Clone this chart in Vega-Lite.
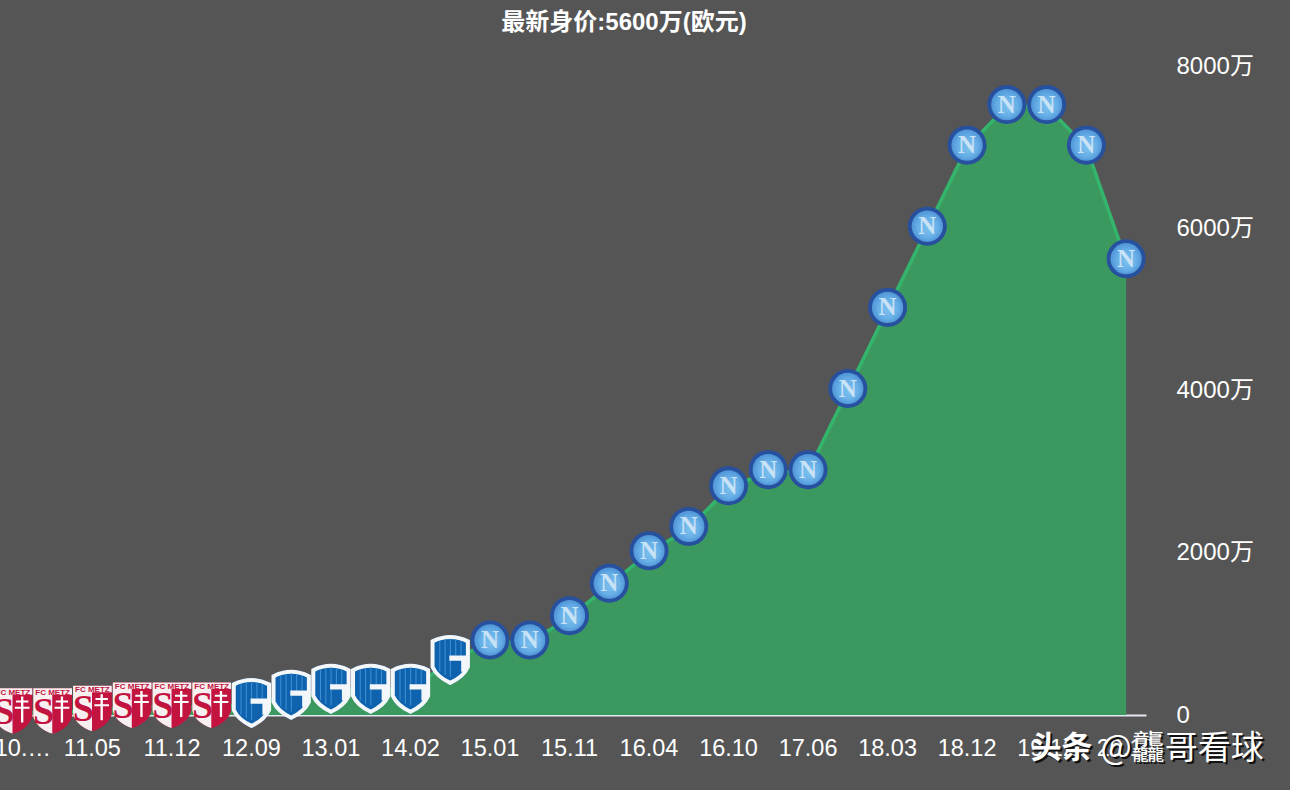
{
  "$schema": "https://vega.github.io/schema/vega-lite/v6.json",
  "width": 1146,
  "height": 649,
  "autosize": {"type": "none"},
  "padding": {"left": 0, "top": 66, "right": 144, "bottom": 75},
  "background": "#555555",
  "title": {
    "text": "最新身价:5600万(欧元)",
    "color": "#ffffff",
    "font": "Liberation Sans, Noto Sans CJK SC",
    "fontSize": 24,
    "fontWeight": "bold",
    "anchor": "middle",
    "dx": 51,
    "offset": 19
  },
  "data": {
    "values": [
      {"date": "10.07", "value": 30, "club": "Metz"},
      {"date": "11.01", "value": 30, "club": "Metz"},
      {"date": "11.05", "value": 60, "club": "Metz"},
      {"date": "11.08", "value": 100, "club": "Metz"},
      {"date": "11.12", "value": 100, "club": "Metz"},
      {"date": "12.06", "value": 100, "club": "Metz"},
      {"date": "12.09", "value": 135, "club": "Genk"},
      {"date": "12.12", "value": 235, "club": "Genk"},
      {"date": "13.01", "value": 310, "club": "Genk"},
      {"date": "13.07", "value": 310, "club": "Genk"},
      {"date": "14.02", "value": 310, "club": "Genk"},
      {"date": "14.07", "value": 665, "club": "Genk"},
      {"date": "15.01", "value": 900, "club": "Napoli"},
      {"date": "15.07", "value": 900, "club": "Napoli"},
      {"date": "15.11", "value": 1200, "club": "Napoli"},
      {"date": "16.01", "value": 1600, "club": "Napoli"},
      {"date": "16.04", "value": 2000, "club": "Napoli"},
      {"date": "16.07", "value": 2300, "club": "Napoli"},
      {"date": "16.10", "value": 2800, "club": "Napoli"},
      {"date": "17.01", "value": 3000, "club": "Napoli"},
      {"date": "17.06", "value": 3000, "club": "Napoli"},
      {"date": "17.12", "value": 4000, "club": "Napoli"},
      {"date": "18.03", "value": 5000, "club": "Napoli"},
      {"date": "18.06", "value": 6000, "club": "Napoli"},
      {"date": "18.12", "value": 7000, "club": "Napoli"},
      {"date": "19.06", "value": 7500, "club": "Napoli"},
      {"date": "19.12", "value": 7500, "club": "Napoli"},
      {"date": "20.04", "value": 7000, "club": "Napoli"},
      {"date": "20.10", "value": 5600, "club": "Napoli"}
    ]
  },
  "encoding": {
    "x": {
      "field": "date",
      "type": "ordinal",
      "sort": null,
      "scale": {"type": "band", "range": [-7, 1146], "paddingInner": 0, "paddingOuter": 0},
      "axis": {
        "title": null,
        "values": ["10.07", "11.05", "11.12", "12.09", "13.01", "14.02", "15.01", "15.11", "16.04", "16.10", "17.06", "18.03", "18.12", "19.12", "20.10"],
        "labelExpr": "datum.value == '10.07' ? '10.…' : datum.value",
        "labelAngle": 0,
        "labelAlign": "center",
        "labelBound": false,
        "labelOverlap": false,
        "labelFlush": false,
        "labelColor": "#ffffff",
        "labelFont": "Liberation Sans, Noto Sans CJK SC",
        "labelFontSize": 23.5,
        "labelPadding": 21,
        "labelOffset": {"condition": {"test": "datum.value == '10.07'", "value": 10}, "value": 0},
        "ticks": false,
        "grid": false,
        "domainColor": "#e4e8f0",
        "domainWidth": 2
      }
    },
    "y": {
      "field": "value",
      "type": "quantitative",
      "scale": {"domain": [0, 8000], "nice": false},
      "axis": {
        "title": null,
        "orient": "right",
        "values": [0, 2000, 4000, 6000, 8000],
        "labelExpr": "datum.value == 0 ? '0' : datum.value + '万'",
        "labelColor": "#ffffff",
        "labelFont": "Liberation Sans, Noto Sans CJK SC",
        "labelFontSize": 24,
        "labelPadding": 30,
        "labelBound": false,
        "labelFlush": false,
        "ticks": false,
        "grid": false,
        "domain": false
      }
    }
  },
  "layer": [
    {"mark": {"type": "area", "color": "#3b9960"}},
    {"mark": {"type": "line", "color": "#34b56c", "strokeWidth": 3.5}},
    {
      "transform": [{"filter": "datum.club == 'Metz'"}],
      "layer": [
        {"mark": {"type": "point", "filled": true, "opacity": 1, "size": 1500, "color": "#c2143f", "yOffset": -2, "shape": "M-1,-1.15 L1,-1.15 L1,0.3 Q0.85,0.9 0,1.2 Q-0.85,0.9 -1,0.3 Z"}},
        {"mark": {"type": "point", "filled": true, "opacity": 1, "size": 1500, "color": "#f8eff1", "yOffset": -2, "shape": "M-1,-1.15 L1,-1.15 L1,-0.82 L-0.02,-0.82 L-0.02,1.2 L0,1.2 Q-0.85,0.9 -1,0.3 Z"}},
        {"mark": {"type": "text", "text": "FC METZ", "font": "Liberation Sans", "fontWeight": "bold", "fontSize": 8, "color": "#c2143f", "dy": -20}},
        {"mark": {"type": "text", "text": "S", "font": "Liberation Serif", "fontWeight": "bold", "fontSize": 38, "color": "#c2143f", "dx": -9, "dy": 0}},
        {"mark": {"type": "point", "filled": true, "opacity": 1, "size": 1500, "color": "#ffffff", "yOffset": -2, "shape": "M0.42,-0.72 L0.54,-0.72 L0.54,-0.52 L0.8,-0.52 L0.8,-0.42 L0.54,-0.42 L0.54,-0.2 L0.86,-0.2 L0.86,-0.1 L0.54,-0.1 L0.54,0.62 L0.42,0.62 L0.42,-0.1 L0.1,-0.1 L0.1,-0.2 L0.42,-0.2 L0.42,-0.42 L0.16,-0.42 L0.16,-0.52 L0.42,-0.52 Z"}}
      ]
    },
    {
      "transform": [{"filter": "datum.club == 'Genk'"}],
      "layer": [
        {"mark": {"type": "point", "filled": true, "opacity": 1, "size": 1480, "color": "#2c5f9e", "yOffset": -2, "shape": "M-1,-1 Q0,-1.5 1,-1 L1,0.45 Q0.75,1 0,1.35 Q-0.75,1 -1,0.45 Z"}},
        {"mark": {"type": "point", "filled": true, "opacity": 1, "size": 1250, "color": "#0f63ae", "stroke": "#f4f7fa", "strokeWidth": 4, "strokeOpacity": 1, "yOffset": -2, "shape": "M-1,-1 Q0,-1.5 1,-1 L1,0.45 Q0.75,1 0,1.35 Q-0.75,1 -1,0.45 Z"}},
        {"mark": {"type": "point", "filled": true, "opacity": 1, "size": 1250, "color": "#3d8ed2", "yOffset": -2, "shape": "M-0.62,-1 L-0.56,-1 L-0.56,0.7 L-0.62,0.7 Z M-0.32,-1.1 L-0.26,-1.1 L-0.26,0.9 L-0.32,0.9 Z M-0.02,-1.15 L0.04,-1.15 L0.04,1 L-0.02,1 Z M0.28,-1.1 L0.34,-1.1 L0.34,-0.2 L0.28,-0.2 Z M0.58,-1 L0.64,-1 L0.64,-0.2 L0.58,-0.2 Z"}},
        {"mark": {"type": "point", "filled": true, "opacity": 1, "size": 1250, "color": "#f4f7fa", "yOffset": -2, "shape": "M-0.05,-0.2 L1,-0.2 L1,0.45 L0.82,0.72 L0.62,0.72 L0.62,0.1 L-0.05,0.1 Z"}}
      ]
    },
    {
      "transform": [{"filter": "datum.club == 'Napoli'"}],
      "layer": [
        {"mark": {"type": "circle", "opacity": 1, "size": 1521, "color": "#27509f", "yOffset": -2}},
        {"mark": {"type": "circle", "opacity": 1, "size": 980, "yOffset": -2, "fill": {"gradient": "radial", "x1": 0.55, "y1": 0.6, "r1": 0, "x2": 0.5, "y2": 0.5, "r2": 0.55, "stops": [{"offset": 0, "color": "#7cc0ee"}, {"offset": 0.6, "color": "#66aee6"}, {"offset": 1, "color": "#4a8fd4"}]}}},
        {"mark": {"type": "text", "text": "N", "font": "Liberation Serif", "fontWeight": "bold", "fontSize": 25, "color": "#c8e2f6", "dy": -2}}
      ]
    },
    {
      "transform": [{"filter": "datum.date == '19.12'"}],
      "encoding": {"y": {"datum": 0}},
      "layer": [
        {"mark": {"type": "text", "text": "头条", "align": "left", "font": "Noto Sans CJK SC", "fontWeight": "bold", "fontSize": 31, "color": "#111111", "dx": -14, "dy": 36}},
        {"mark": {"type": "text", "text": "头条", "align": "left", "font": "Noto Sans CJK SC", "fontWeight": "bold", "fontSize": 31, "color": "#ffffff", "dx": -16, "dy": 34}},
        {"mark": {"type": "text", "text": "@龘哥看球", "align": "left", "font": "Noto Sans CJK SC", "fontSize": 33, "color": "#111111", "dx": 56, "dy": 36}},
        {"mark": {"type": "text", "text": "@龘哥看球", "align": "left", "font": "Noto Sans CJK SC", "fontSize": 33, "color": "#ffffff", "dx": 54, "dy": 34}}
      ]
    }
  ],
  "config": {"view": {"stroke": null}}
}
